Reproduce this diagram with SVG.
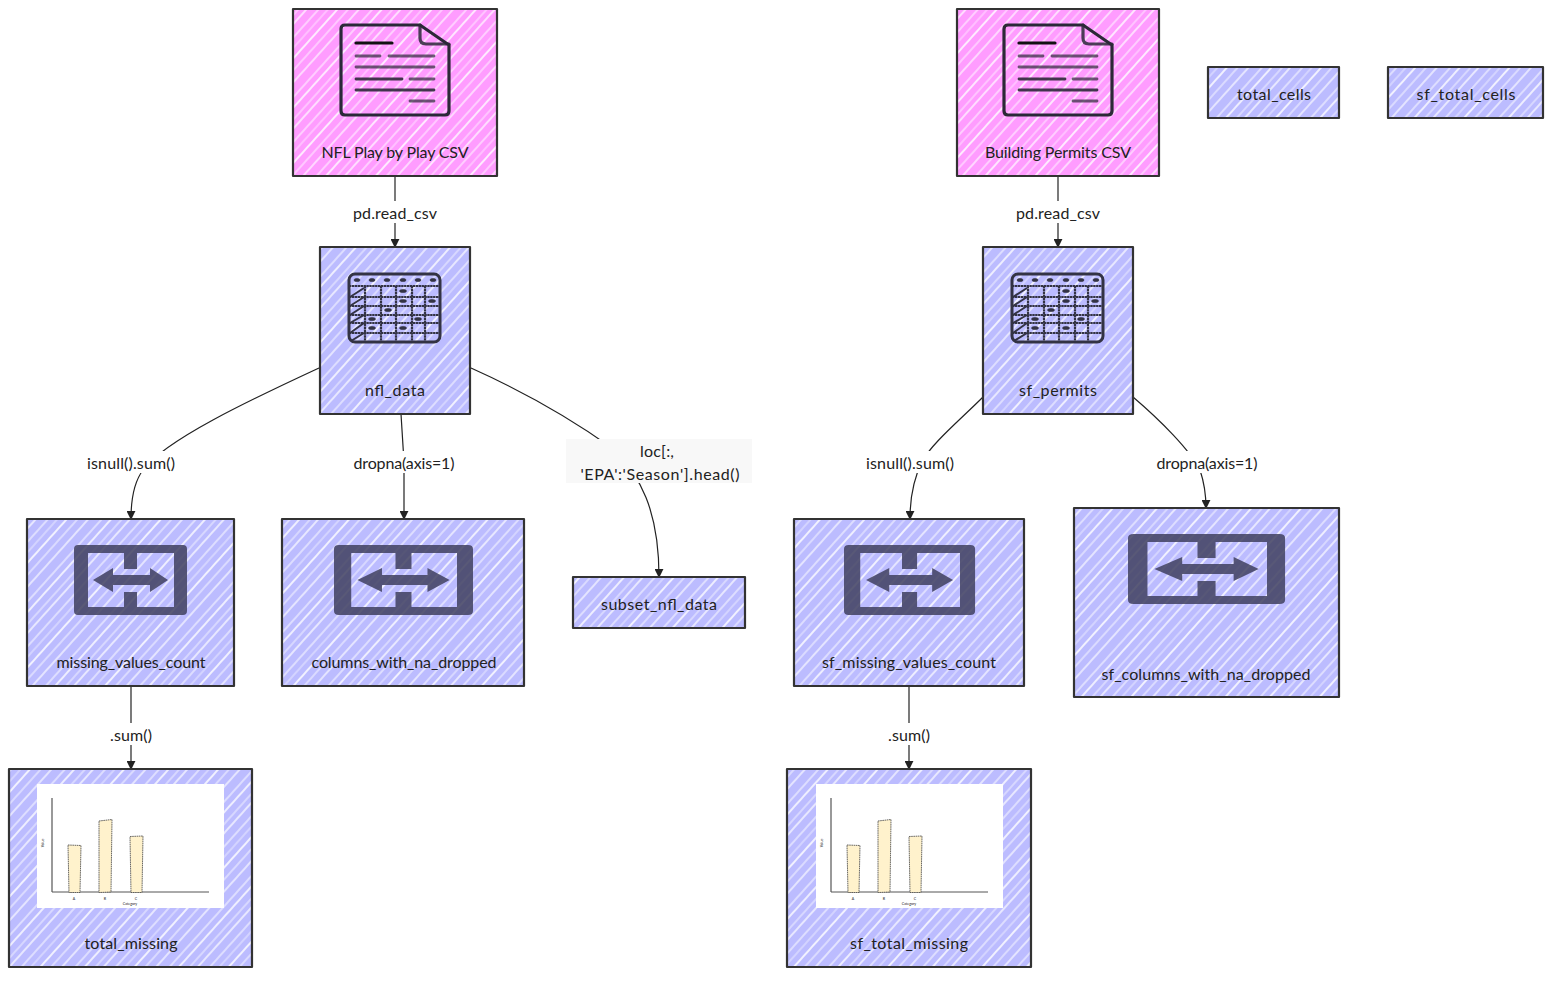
<svg xmlns="http://www.w3.org/2000/svg" xmlns:xlink="http://www.w3.org/1999/xlink" width="1568" height="988" viewBox="0 0 1568 988">
<style>
text{font-family:"Lato","Noto Sans",sans-serif;font-size:16px;fill:#222;text-anchor:middle;dominant-baseline:central}
.box{stroke:#333;stroke-width:2.2;stroke-linejoin:round}
.blue{fill:url(#hatchBlue)}
.pink{fill:url(#hatchPink)}
.edge{fill:none;stroke:#222;stroke-width:1.2;marker-end:url(#arrow)}
.lbg{fill:#f8f8f8;stroke:none}
.lbgw{fill:#fff;stroke:none}
.tiny{font-size:3.6px}
.bar{fill:#fff2cc;stroke:#444;stroke-width:.8;stroke-dasharray:1.6 .6}
</style>
<defs>
<marker id="arrow" viewBox="0 0 10 10" refX="9" refY="5" markerWidth="9" markerHeight="9" orient="auto" markerUnits="userSpaceOnUse"><path d="M0,0L10,5L0,10z" fill="#222"/></marker>
<pattern id="hatchBlue" width="12" height="70" patternUnits="userSpaceOnUse" patternTransform="rotate(-48)">
<rect width="12" height="70" fill="#bcbcff"/>
<g stroke="#fff" fill="none"><path d="M0,3H12" stroke-width="1"/><path d="M0,10H12" stroke-width="1.5"/><path d="M0,18H12" stroke-width=".8"/><path d="M0,24H12" stroke-width="1.3"/><path d="M0,33H12" stroke-width="1"/><path d="M0,40H12" stroke-width=".7"/><path d="M0,47H12" stroke-width="1.6"/><path d="M0,55H12" stroke-width=".9"/><path d="M0,63H12" stroke-width="1.2"/></g>
</pattern>
<pattern id="hatchPink" width="12" height="70" patternUnits="userSpaceOnUse" patternTransform="rotate(-48)">
<rect width="12" height="70" fill="#ff9cff"/>
<g stroke="#fff" fill="none"><path d="M0,3H12" stroke-width="1"/><path d="M0,10H12" stroke-width="1.5"/><path d="M0,18H12" stroke-width=".8"/><path d="M0,24H12" stroke-width="1.3"/><path d="M0,33H12" stroke-width="1"/><path d="M0,40H12" stroke-width=".7"/><path d="M0,47H12" stroke-width="1.6"/><path d="M0,55H12" stroke-width=".9"/><path d="M0,63H12" stroke-width="1.2"/></g>
</pattern>
<g id="docIcon" fill="none" stroke="#2c2838" stroke-linecap="round">
<path d="M345,25H420L449,45V111Q449,115 445,115H345Q341,115 341,111V29Q341,25 345,25Z" stroke-width="3.2"/>
<path d="M420,25V38Q420,44 426,44H449" stroke-width="3.2" stroke-opacity=".85"/>
<path d="M356,43H392" stroke-width="3.2" stroke="#111"/>
<g stroke-width="2.8" stroke-opacity=".7"><path d="M356,56H380M389,56H434M356,67H434M410,79H434M410,101H434"/></g>
<g stroke-width="2.8" stroke-opacity=".9"><path d="M356,79H402M356,90H434"/></g>
</g>
<g id="tableIcon" fill="none" stroke="#333344" stroke-linejoin="round">
<rect x="349" y="274" width="91" height="68" rx="6" stroke-width="3"/>
<path d="M349,286H440M349,297H440M349,306H440M349,315H440M349,323H440M349,333H440M365,286V342M381,286V342M396,286V342M412,286V342M425,286V342" stroke-width="2.2" stroke-dasharray="2.4 .5"/>
<path d="M350,297L364,288M350,306L364,297M350,315L364,306M350,323L364,315M350,333L364,323M351,341L364,333" stroke-width="2"/>
<g fill="#333344" stroke-width=".6"><ellipse cx="357" cy="280" rx="3" ry="1.6"/><ellipse cx="372" cy="280" rx="3" ry="1.6"/><ellipse cx="387" cy="280" rx="3" ry="1.6"/><ellipse cx="403" cy="280" rx="3" ry="1.6"/><ellipse cx="418" cy="280" rx="3" ry="1.6"/><ellipse cx="433" cy="280" rx="3" ry="1.6"/><ellipse cx="403" cy="291" rx="3.5" ry="1.6"/><ellipse cx="403" cy="301" rx="3.5" ry="1.6"/><ellipse cx="432" cy="301" rx="3.5" ry="1.6"/><ellipse cx="388" cy="310" rx="3.5" ry="1.6"/><ellipse cx="372" cy="319" rx="3.5" ry="1.6"/><ellipse cx="418" cy="319" rx="3.5" ry="1.6"/><ellipse cx="372" cy="328" rx="3.5" ry="1.6"/><ellipse cx="403" cy="328" rx="3.5" ry="1.6"/></g>
</g>
<path id="swapIcon" fill-rule="evenodd" fill="#3f3f5f" fill-opacity=".85" d="M4,0H109Q113,0 113,4V66Q113,70 109,70H4Q0,70 0,66V4Q0,0 4,0ZM14,8V62H50V47H63V62H100V8H63V24H50V8ZM19,35L39,23V30H76V23L94,35L76,47V40H39V47Z"/>
<g id="chart">
<rect x="37" y="784" width="187" height="124" fill="#fff"/>
<path d="M52,798V892" stroke="#555" stroke-width="1.2" fill="none"/>
<path d="M52,892H209" stroke="#555" stroke-width="1" fill="none"/>
<path class="bar" d="M68,845L81,845.5L80,892.5L69,892.5Z"/>
<path class="bar" d="M99,821L112,819.5L111,892L99,892.5Z"/>
<path class="bar" d="M130,836.5L143,836L142,892.5L131,892.5Z"/>
<text class="tiny" x="74" y="898">A</text><text class="tiny" x="105" y="898">B</text><text class="tiny" x="136" y="898">C</text>
<text class="tiny" x="130" y="903.5">Category</text>
<text class="tiny" transform="translate(42,843) rotate(-90)">Value</text>
</g>
</defs>

<g id="connectors">
<path class="edge" d="M395,176V247"/>
<path class="edge" d="M1058,176V247"/>
<path class="edge" d="M319,368C250,400 165,440 143,470C134,482 131,500 131,519"/>
<path class="edge" d="M401,414L404,462V519"/>
<path class="edge" d="M471,368C520,390 570,418 612,448C640,475 659,510 659,577"/>
<path class="edge" d="M983,397C960,420 930,445 922,462C913,480 910,500 910,519"/>
<path class="edge" d="M1133,397C1160,420 1190,450 1200,470C1205,485 1206,495 1206,508"/>
<path class="edge" d="M131,686V769"/>
<path class="edge" d="M909,686V769"/>
</g>

<g id="edge-labels">
<rect class="lbgw" x="352" y="201" width="86" height="22"/><text x="395" y="212" textLength="84">pd.read_csv</text>
<rect class="lbgw" x="1015" y="201" width="86" height="22"/><text x="1058" y="212" textLength="84">pd.read_csv</text>
<rect class="lbgw" x="86" y="451" width="90" height="22"/><text x="131" y="462" textLength="88">isnull().sum()</text>
<rect class="lbgw" x="352" y="451" width="103" height="22"/><text x="404" y="462" textLength="101">dropna(axis=1)</text>
<rect class="lbg" x="566" y="439" width="186" height="44"/><text x="657" y="450" textLength="34">loc[:,</text><text x="660" y="473" textLength="159">'EPA':'Season'].head()</text>
<rect class="lbgw" x="865" y="451" width="90" height="22"/><text x="910" y="462" textLength="88">isnull().sum()</text>
<rect class="lbgw" x="1155" y="451" width="103" height="22"/><text x="1207" y="462" textLength="101">dropna(axis=1)</text>
<rect class="lbgw" x="109" y="723" width="44" height="22"/><text x="131" y="734" textLength="42">.sum()</text>
<rect class="lbgw" x="887" y="723" width="44" height="22"/><text x="909" y="734" textLength="42">.sum()</text>
</g>

<g id="nfl-csv"><rect class="box pink" x="293" y="9" width="204" height="167"/><use href="#docIcon"/><text x="395" y="151" textLength="147">NFL Play by Play CSV</text></g>
<g id="building-csv"><rect class="box pink" x="957" y="9" width="202" height="167"/><use href="#docIcon" transform="translate(663,0)"/><text x="1058" y="151" textLength="146">Building Permits CSV</text></g>
<g id="total-cells"><rect class="box blue" x="1208" y="67" width="131" height="51"/><text x="1274" y="93" textLength="74">total_cells</text></g>
<g id="sf-total-cells"><rect class="box blue" x="1388" y="67" width="155" height="51"/><text x="1466" y="93" textLength="99">sf_total_cells</text></g>
<g id="nfl-data"><rect class="box blue" x="320" y="247" width="150" height="167"/><use href="#tableIcon"/><text x="395" y="389" textLength="60">nfl_data</text></g>
<g id="sf-permits"><rect class="box blue" x="983" y="247" width="150" height="167"/><use href="#tableIcon" transform="translate(663,0)"/><text x="1058" y="389" textLength="78">sf_permits</text></g>
<g id="missing-values-count"><rect class="box blue" x="27" y="519" width="207" height="167"/><use href="#swapIcon" transform="translate(74,545)"/><text x="131" y="661" textLength="149">missing_values_count</text></g>
<g id="columns-with-na-dropped"><rect class="box blue" x="282" y="519" width="242" height="167"/><use href="#swapIcon" transform="translate(334,545) scale(1.23,1)"/><text x="404" y="661" textLength="185">columns_with_na_dropped</text></g>
<g id="subset-nfl-data"><rect class="box blue" x="573" y="577" width="172" height="51"/><text x="659" y="603" textLength="116">subset_nfl_data</text></g>
<g id="sf-missing-values-count"><rect class="box blue" x="794" y="519" width="230" height="167"/><use href="#swapIcon" transform="translate(844,545) scale(1.16,1)"/><text x="909" y="661" textLength="174">sf_missing_values_count</text></g>
<g id="sf-columns-with-na-dropped"><rect class="box blue" x="1074" y="508" width="265" height="189"/><use href="#swapIcon" transform="translate(1128,534) scale(1.39,1)"/><text x="1206" y="673" textLength="209">sf_columns_with_na_dropped</text></g>
<g id="total-missing"><rect class="box blue" x="9" y="769" width="243" height="198"/><use href="#chart"/><text x="131" y="942" textLength="93">total_missing</text></g>
<g id="sf-total-missing"><rect class="box blue" x="787" y="769" width="244" height="198"/><use href="#chart" transform="translate(779,0)"/><text x="909" y="942" textLength="118">sf_total_missing</text></g>
</svg>
